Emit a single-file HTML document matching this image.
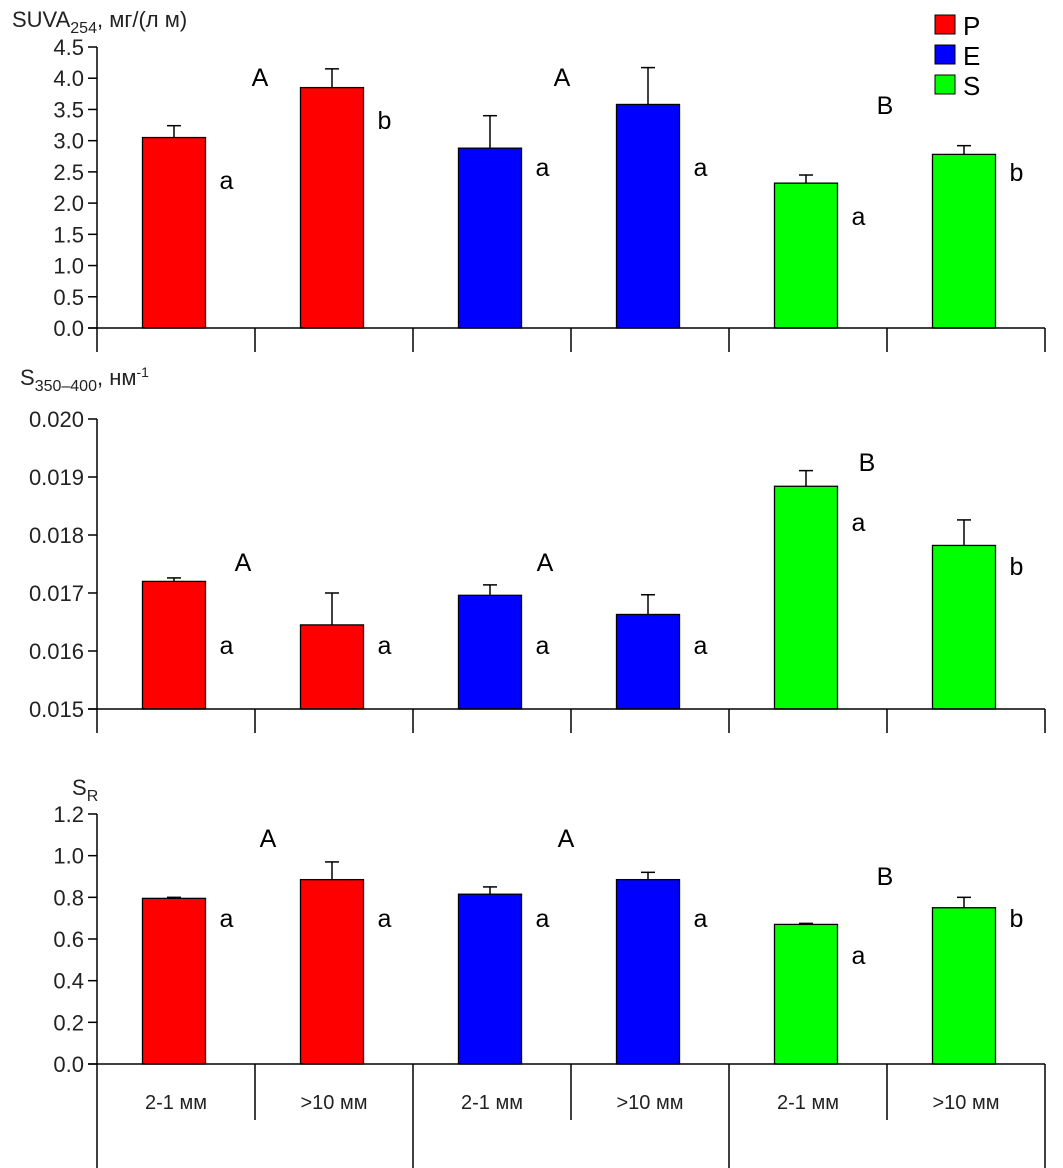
<!DOCTYPE html>
<html><head><meta charset="utf-8"><style>
body{margin:0;background:#fff;}
svg{display:block;font-family:"Liberation Sans",sans-serif;}
.tk{fill:#222;font-size:22px;}
.lt{fill:#000;font-size:25px;}
</style></head><body>
<svg id="c" width="1063" height="1168">
<g>
<rect x="935" y="15" width="20" height="19" fill="#f00" stroke="#000"/>
<text x="963" y="35" font-size="26">P</text>
<rect x="935" y="45" width="20" height="19" fill="#00f" stroke="#000"/>
<text x="963" y="65" font-size="26">E</text>
<rect x="935" y="75" width="20" height="19" fill="#0f0" stroke="#000"/>
<text x="963" y="95" font-size="26">S</text>
</g>
<text x="12" y="27" font-size="22" fill="#222">SUVA<tspan font-size="16" dy="6">254</tspan><tspan dy="-6">, мг/(л м)</tspan></text>
<text x="20" y="385" font-size="22" fill="#222">S<tspan font-size="16" dy="6">350–400</tspan><tspan dy="-6">, нм</tspan><tspan font-size="14" dy="-8">-1</tspan></text>
<text x="72" y="795" font-size="22" fill="#222">S<tspan font-size="16" dy="6">R</tspan></text>
</svg>
<script>
const categories=["2-1 мм",">10 мм","2-1 мм",">10 мм","2-1 мм",">10 мм"];
const colors=["#f00","#f00","#00f","#00f","#0f0","#0f0"];
const suvaVals=[3.05,3.85,2.88,3.58,2.32,2.78];
const suvaErr=[0.19,0.30,0.52,0.59,0.13,0.14];
const suvaLetters=["a","b","a","a","a","b"];
const suvaTicks=["0.0","0.5","1.0","1.5","2.0","2.5","3.0","3.5","4.0","4.5"];
const s350Vals=[0.01720,0.01645,0.01696,0.01663,0.01884,0.01782];
const s350Err=[0.00006,0.00055,0.00018,0.00034,0.00027,0.00044];
const s350Letters=["a","a","a","a","a","b"];
const s350Ticks=["0.015","0.016","0.017","0.018","0.019","0.020"];
const srVals=[0.795,0.885,0.815,0.885,0.67,0.75];
const srErr=[0.005,0.085,0.035,0.035,0.005,0.05];
const srLetters=["a","a","a","a","a","b"];
const srTicks=["0.0","0.2","0.4","0.6","0.8","1.0","1.2"];
const groupLetters=["A","A","B"];

const svg=document.getElementById('c');
const NS="http://www.w3.org/2000/svg";
function mk(t,a,p){const e=document.createElementNS(NS,t);for(const k in a)e.setAttribute(k,a[k]);(p||svg).appendChild(e);return e;}
const x0=97,x1=1045,slot=(x1-x0)/6,bw=63;
function xc(i){return x0+slot*(i+0.5)-2;}

function panel(name,vals,errs,letters,ticks,ymin,ymax,yTop,yBot,grpY,letterY,bottom){
  const g=mk('g',{});
  
  
  const y=v=>yBot-(v-ymin)/(ymax-ymin)*(yBot-yTop);
  mk('line',{x1:x0,y1:yTop,x2:x0,y2:yBot,stroke:'#000','stroke-width':1.5},g);
  ticks.forEach(t=>{const v=parseFloat(t);const yy=y(v);
    mk('line',{x1:x0-9,y1:yy,x2:x0,y2:yy,stroke:'#000','stroke-width':1.5},g);
    const tx=mk('text',{x:x0-13,y:yy+8,'text-anchor':'end',class:'tk'},g);tx.textContent=t;
    
    
  });
  vals.forEach((v,i)=>{
    const cx=xc(i);
    const r=mk('rect',{x:cx-bw/2,y:y(v),width:bw,height:yBot-y(v),fill:colors[i],stroke:'#000','stroke-width':1.3},g);
    
    
    const ye=y(v+errs[i]);
    mk('line',{x1:cx,y1:y(v),x2:cx,y2:ye,stroke:'#000','stroke-width':1.5},g);
    mk('line',{x1:cx-7,y1:ye,x2:cx+7,y2:ye,stroke:'#000','stroke-width':1.5},g);
    const lt=mk('text',{x:cx+bw/2+14,y:letterY[i],class:'lt'},g);lt.textContent=letters[i];
    
    
  });
  groupLetters.forEach((L,k)=>{
    const t=mk('text',{x:grpY[k][0],y:grpY[k][1],class:'lt','text-anchor':'middle'},g);t.textContent=L;
    
    
  });
  mk('line',{x1:x0-9,y1:yBot,x2:x1,y2:yBot,stroke:'#000','stroke-width':1.5},g);
  for(let i=0;i<=6;i++){const xx=x0+slot*i;
    let y2=yBot+24;
    if(bottom){y2=(i%2===0)?1168:yBot+56;}
    mk('line',{x1:xx,y1:yBot,x2:xx,y2:y2,stroke:'#000','stroke-width':1.5},g);}
  if(bottom){categories.forEach((c,i)=>{const t=mk('text',{x:xc(i)+2,y:yBot+45,'text-anchor':'middle',class:'tk',style:'font-size:20px'},g);t.textContent=c;
    
    });}
}
panel('suva',suvaVals,suvaErr,suvaLetters,suvaTicks,0,4.5,47,328,[[260,86],[562,86],[885,114]],[189,129,176,176,225,181],false);
panel('s350',s350Vals,s350Err,s350Letters,s350Ticks,0.015,0.020,419,709,[[243,571],[545,571],[867,471]],[654,654,654,654,531,575],false);
panel('sr',srVals,srErr,srLetters,srTicks,0,1.2,814,1064,[[268,847],[566,847],[885,885]],[927,927,927,927,964,927],true);
</script>
</body></html>
